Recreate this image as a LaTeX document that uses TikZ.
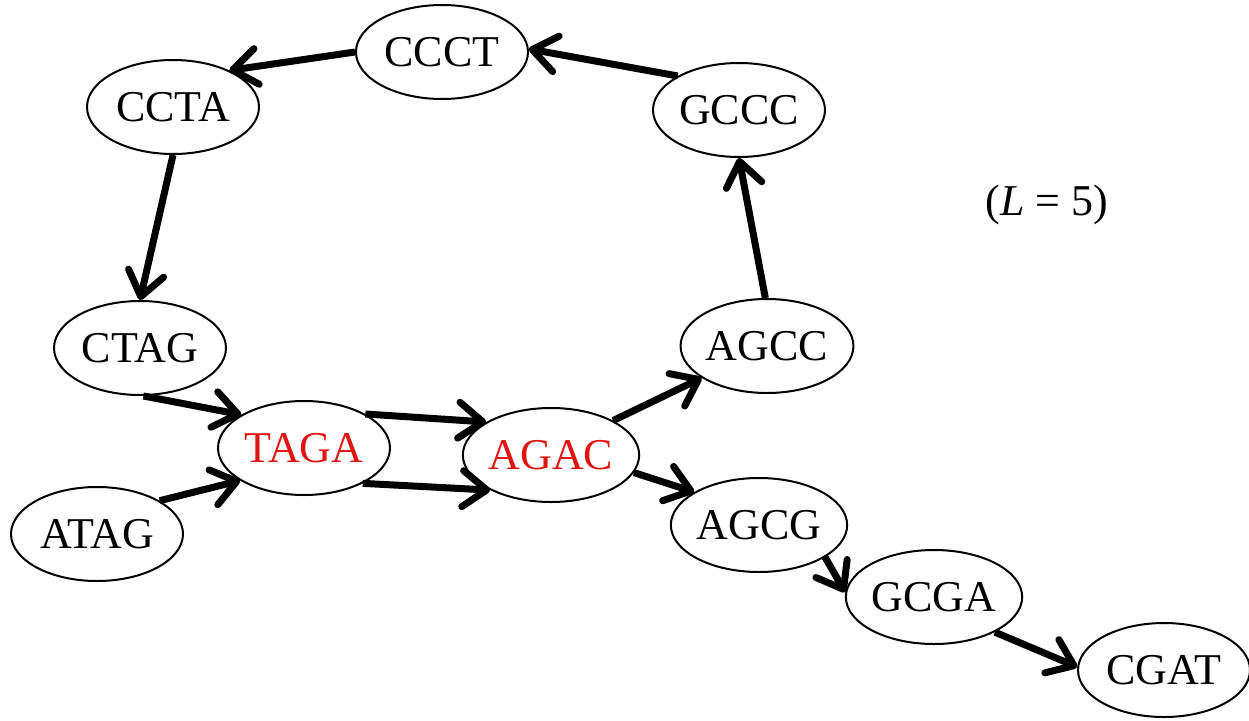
\documentclass[tikz,border=0pt]{standalone}
\usepackage{fontspec}
\setmainfont{Liberation Serif}
\usetikzlibrary{shapes.geometric,arrows.meta}
\begin{document}
\begin{tikzpicture}[x=1pt,y=-1pt,
  kmer/.style={ellipse,draw=black,line width=2pt,minimum width=172pt,minimum height=94pt,inner sep=0pt,font=\fontsize{44}{50}\selectfont},
  hot/.style={kmer,text={rgb,255:red,225;green,20;blue,20}},
  edge/.style={line width=7pt,-{Straight Barb[length=24pt,width=36pt,line width=7pt,line cap=round,line join=round]}}]
\useasboundingbox (0,0) rectangle (1249,720);
\node[kmer] (CCCT) at (442,52) {CCCT};
\node[kmer] (CCTA) at (173,107) {CCTA};
\node[kmer] (GCCC) at (739,110) {GCCC};
\node[kmer] (CTAG) at (140,348) {CTAG};
\node[kmer] (AGCC) at (767,346) {AGCC};
\node[hot] (TAGA) at (304,448) {TAGA};
\node[hot] (AGAC) at (551,455) {AGAC};
\node[kmer] (ATAG) at (97,534) {ATAG};
\node[kmer] (AGCG) at (759,525) {AGCG};
\node[kmer] (GCGA) at (934,597) {GCGA};
\node[kmer] (CGAT) at (1164,670) {CGAT};
\node[font=\fontsize{44}{50}\selectfont] (L) at (1047,205) {(\textit{L} = 5)};
\draw[edge] (CCCT.180) -- (CCTA.33);
\draw[edge] (GCCC.151) -- (CCCT.2);
\draw[edge] (CCTA.-90) -- (CTAG.90);
\draw[edge] (AGCC.92) -- (GCCC.-90);
\draw[edge] (CTAG.-86) -- (TAGA.152);
\draw[edge] (ATAG.28) -- (TAGA.207);
\draw[edge] (TAGA.29) -- (AGAC.153);
\draw[edge] (TAGA.-31) -- (AGAC.210);
\draw[edge] (AGAC.29) -- (AGCC.206);
\draw[edge] (AGAC.-12) -- (AGCG.153);
\draw[edge] (AGCG.-26) -- (GCGA.177);
\draw[edge] (GCGA.-30) -- (CGAT.178);
\end{tikzpicture}
\end{document}
